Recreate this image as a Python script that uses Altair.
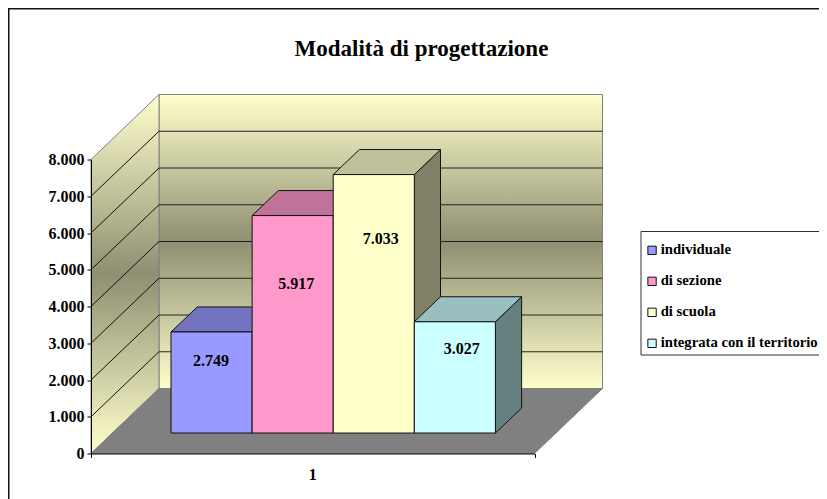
import altair as alt
import pandas as pd

TITLE = "Modalità di progettazione"
SERIES = ["individuale", "di sezione", "di scuola", "integrata con il territorio"]
VALUES = [2749, 5917, 7033, 3027]
FRONT = ["#9999FF", "#FF99CC", "#FFFFCC", "#CCFFFF"]
TOPS = ["#7373BF", "#BF7399", "#BFBF99", "#99BFBF"]
SIDES = ["#666680", "#806680", "#808066", "#668080"]
TICKS = list(range(0, 8001, 1000))
CATEGORY = "1"

# Scene geometry: plot area equals the front of the floor (width) and the axis (height)
W, H = 443.5, 294.0
PX_U, PX_V = 1 / W, 8000 / H
DEPTH_DX, DEPTH_DY = 68 * PX_U, 65 * PX_V      # shift of the rear wall
BAR_W = 81.1 * PX_U
BAR_START = 58.6 * PX_U
D0, D1 = 0.315, 0.70                            # depth range of the bars
LABEL_SHIFT = [(-0.5, 29), (3.5, 68), (7, 64), (7, 27)]  # text anchor vs. bar top, px
SERIF = "Liberation Serif"

X = alt.Scale(domain=[0, 1], nice=False, zero=False)
Y = alt.Scale(domain=[0, 8000], nice=False, zero=False)


def px(u, d):
    return u + d * DEPTH_DX


def py(v, d):
    return v + d * DEPTH_DY


def xq(f="x"):
    return alt.X(f"{f}:Q", scale=X, axis=None)


def yq(f="y"):
    return alt.Y(f"{f}:Q", scale=Y, axis=None)


def vertical_face(x0, x1, y00, y01, y10, y11, fill, stroke, sw=1.0):
    df = pd.DataFrame({"x": [x0, x1], "y": [y00, y10], "y2": [y01, y11]})
    return alt.Chart(df).mark_area(
        orient="vertical", color=fill, stroke=stroke, strokeWidth=sw
    ).encode(x=xq(), y=yq(), y2="y2:Q")


def horizontal_face(y0, y1, x00, x01, x10, x11, fill, stroke, sw=1.0):
    df = pd.DataFrame({"y": [y0, y1], "x": [x00, x10], "x2": [x01, x11]})
    return alt.Chart(df).mark_area(
        orient="horizontal", color=fill, stroke=stroke, strokeWidth=sw
    ).encode(y=yq(), x=xq(), x2="x2:Q")


wall_gradient = alt.LinearGradient(
    gradient="linear", x1=0, x2=0, y1=0, y2=1,
    stops=[
        alt.GradientStop(offset=0, color="#FFFFCC"),
        alt.GradientStop(offset=0.5, color="#8F8F72"),
        alt.GradientStop(offset=1, color="#FFFFCC"),
    ],
)

layers = []

# Axes carried by an invisible base layer
base = pd.DataFrame({"x": [0], "y": [0]})
layers.append(
    alt.Chart(base).mark_point(opacity=0).encode(
        x=alt.X("x:Q", scale=X, title=None, axis=alt.Axis(
            values=[0, 1], labels=False, grid=False, tickSize=4, domainColor="black",
            tickColor="black", zindex=2)),
        y=alt.Y("y:Q", scale=Y, title=None, axis=alt.Axis(
            values=TICKS, grid=False, tickSize=4, domainColor="black", tickColor="black",
            labelFont=SERIF, labelFontSize=16, labelFontWeight="bold", labelColor="black",
            labelPadding=3, zindex=2,
            labelExpr="replace(format(datum.value, ','), ',', '.')")),
    )
)

# Frame
left_u, right_u = -83 * PX_U, 728 * PX_U
top_v, bottom_v = 445 * PX_V, -45.5 * PX_V
frame_top = pd.DataFrame({"x": [left_u], "x2": [right_u], "y": [top_v]})
frame_left = pd.DataFrame({"x": [left_u], "y": [top_v], "y2": [bottom_v]})
layers.append(alt.Chart(frame_top).mark_rule(color="#111111", strokeWidth=2).encode(
    x=xq(), x2="x2:Q", y=yq()))
layers.append(alt.Chart(frame_left).mark_rule(color="#111111", strokeWidth=3).encode(
    x=xq(), y=yq(), y2="y2:Q"))

# Legend box, open at the right-hand edge like the reference
box_l, box_r = 550 * PX_U, 728 * PX_U
box_t, box_b = 222 * PX_V, 98.5 * PX_V
box_h = pd.DataFrame({"x": [box_l, box_l], "x2": [box_r, box_r], "y": [box_t, box_b]})
box_v = pd.DataFrame({"x": [box_l], "y": [box_t], "y2": [box_b]})
layers.append(alt.Chart(box_h).mark_rule(color="#333333", strokeWidth=1).encode(
    x=xq(), x2="x2:Q", y=yq()))
layers.append(alt.Chart(box_v).mark_rule(color="#333333", strokeWidth=1).encode(
    x=xq(), y=yq(), y2="y2:Q"))

# Walls and floor
layers.append(vertical_face(px(0, 1), px(1, 1), py(8000, 1), py(0, 1), py(8000, 1), py(0, 1),
                            wall_gradient, "#808080"))
layers.append(vertical_face(px(0, 0), px(0, 1), py(8000, 0), py(0, 0), py(8000, 1), py(0, 1),
                            wall_gradient, "#808080"))
layers.append(horizontal_face(py(0, 0), py(0, 1), px(0, 0), px(1, 0), px(0, 1), px(1, 1),
                              "#808080", "#808080"))

# Gridlines: rear wall and side wall
inner = TICKS[1:-1]
rear = pd.DataFrame({"x": [px(0, 1)] * len(inner), "x2": [px(1, 1)] * len(inner),
                     "y": [py(v, 1) for v in inner]})
layers.append(alt.Chart(rear).mark_rule(color="#222222", strokeWidth=1).encode(
    x=xq(), x2="x2:Q", y=yq()))
diag = pd.DataFrame(
    [{"g": v, "x": px(0, d), "y": py(v, d)} for v in inner for d in (0, 1)]
)
layers.append(alt.Chart(diag).mark_line(color="#111111", strokeWidth=1).encode(
    x=xq(), y=yq(), detail="g:N"))

# Bars, painted left to right
colour = alt.Color("serie:N", scale=alt.Scale(domain=SERIES, range=FRONT), legend=alt.Legend(
    title=None, orient="none", legendX=553.7, legendY=83.5, padding=0,
    symbolType="square", symbolSize=70, symbolStrokeColor="#111111",
    symbolStrokeWidth=1, labelFont=SERIF, labelFontSize=14.7, labelFontWeight="bold",
    labelColor="black", rowPadding=15, labelOffset=1.3, labelLimit=300, columns=1))

for i, (name, v) in enumerate(zip(SERIES, VALUES)):
    u0 = BAR_START + i * BAR_W
    u1 = u0 + BAR_W
    layers.append(vertical_face(px(u1, D0), px(u1, D1), py(v, D0), py(0, D0), py(v, D1), py(0, D1),
                                SIDES[i], "#111111"))
    layers.append(horizontal_face(py(v, D0), py(v, D1), px(u0, D0), px(u1, D0), px(u0, D1), px(u1, D1),
                                  TOPS[i], "#111111"))
    front = pd.DataFrame({"serie": [name], "x": [px(u0, D0)], "x2": [px(u1, D0)],
                          "y": [py(v, D0)], "y2": [py(0, D0)]})
    layers.append(alt.Chart(front).mark_rect(stroke="#111111", strokeWidth=1).encode(
        x=xq(), x2="x2:Q", y=yq(), y2="y2:Q", color=colour))

# Data labels
labels = pd.DataFrame({
    "x": [px(BAR_START + (i + 0.5) * BAR_W, D0) + LABEL_SHIFT[i][0] * PX_U for i in range(4)],
    "y": [py(v, D0) - LABEL_SHIFT[i][1] * PX_V for i, v in enumerate(VALUES)],
    "t": [f"{v:,}".replace(",", ".") for v in VALUES],
})
layers.append(alt.Chart(labels).mark_text(
    font=SERIF, fontSize=16, fontWeight="bold", color="black", align="center", baseline="middle"
).encode(x=xq(), y=yq(), text="t:N"))

# Category label
cat = pd.DataFrame({"x": [0.5], "y": [-21.5 * PX_V], "t": [CATEGORY]})
layers.append(alt.Chart(cat).mark_text(
    font=SERIF, fontSize=16, fontWeight="bold", color="black", align="center", baseline="middle"
).encode(x=xq(), y=yq(), text="t:N"))

chart = alt.layer(*layers).properties(
    width=W,
    height=H,
    autosize=alt.AutoSizeParams(type="none"),
    padding={"left": 83, "top": 151.5, "right": 284.5, "bottom": 45.5},
    title=alt.TitleParams(
        text=TITLE, font=SERIF, fontSize=23, fontWeight="bold", color="black",
        anchor="middle", dx=108.7, offset=-54,
    ),
).resolve_scale(x="shared", y="shared", color="shared").resolve_axis(
    x="independent", y="independent"
).configure_view(stroke=None)

chart.save("out.html", embed_options={"renderer": "svg", "actions": False})
